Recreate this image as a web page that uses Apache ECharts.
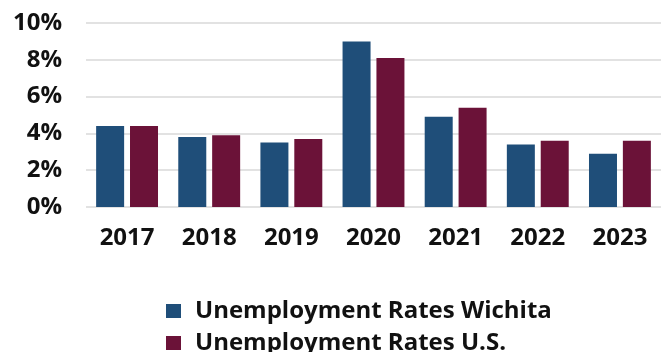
<!DOCTYPE html>
<html>
<head>
<meta charset="utf-8">
<script src="https://cdn.jsdelivr.net/npm/echarts@6/dist/echarts.min.js"></script>
<style>
  html, body { margin: 0; padding: 0; background: #ffffff; }
  #chart { width: 664px; height: 352px; }
</style>
</head>
<body>
<div id="chart"></div>
<script>
// Annual unemployment rates (%), Wichita vs. United States
const years = ['2017', '2018', '2019', '2020', '2021', '2022', '2023'];
const wichitaRates = [4.4, 3.8, 3.5, 9.0, 4.9, 3.4, 2.9];
const usRates = [4.4, 3.9, 3.7, 8.1, 5.4, 3.6, 3.6];
const seriesNames = ['Unemployment Rates Wichita', 'Unemployment Rates U.S.'];
const yTicks = [0, 2, 4, 6, 8, 10];

const FONT = '"Open Sans", sans-serif';
const BLUE = '#1f4e79';
const MAROON = '#6b1238';

// one legend row per series, stacked under the plot
function legendRow(name, top) {
  return {
    orient: 'horizontal',
    left: 166,
    top: top,
    padding: 0,
    itemWidth: 15,
    itemHeight: 14,
    icon: 'rect',
    data: [name],
    textStyle: {
      fontFamily: FONT,
      fontSize: 24,
      fontWeight: 'bold',
      color: '#111111',
      padding: [0, 0, 0, 9]
    }
  };
}

const chart = echarts.init(document.getElementById('chart'), null, { renderer: 'canvas' });

chart.setOption({
  animation: false,
  backgroundColor: '#ffffff',
  textStyle: { fontFamily: FONT },
  grid: { left: 86, right: 3, top: 23, bottom: 145, containLabel: false },
  legend: [legendRow(seriesNames[0], 299), legendRow(seriesNames[1], 331)],
  xAxis: {
    type: 'category',
    data: years,
    axisLine: { show: false },
    axisTick: { show: false },
    axisLabel: {
      margin: 19,
      fontFamily: FONT,
      fontSize: 24,
      fontWeight: 'bold',
      color: '#111111'
    }
  },
  yAxis: {
    type: 'value',
    min: yTicks[0],
    max: yTicks[yTicks.length - 1],
    interval: yTicks[1] - yTicks[0],
    axisLine: { show: false },
    axisTick: { show: false },
    splitLine: { lineStyle: { color: '#d9d9d9', width: 1.5 } },
    axisLabel: {
      margin: 24,
      fontFamily: FONT,
      fontSize: 24,
      fontWeight: 'bold',
      color: '#111111',
      formatter: v => v + '%'
    }
  },
  series: [
    {
      name: seriesNames[0],
      type: 'bar',
      data: wichitaRates,
      barWidth: 28,
      barGap: '21%',
      itemStyle: { color: BLUE }
    },
    {
      name: seriesNames[1],
      type: 'bar',
      data: usRates,
      barWidth: 28,
      barGap: '21%',
      itemStyle: { color: MAROON }
    }
  ]
});
</script>
</body>
</html>
